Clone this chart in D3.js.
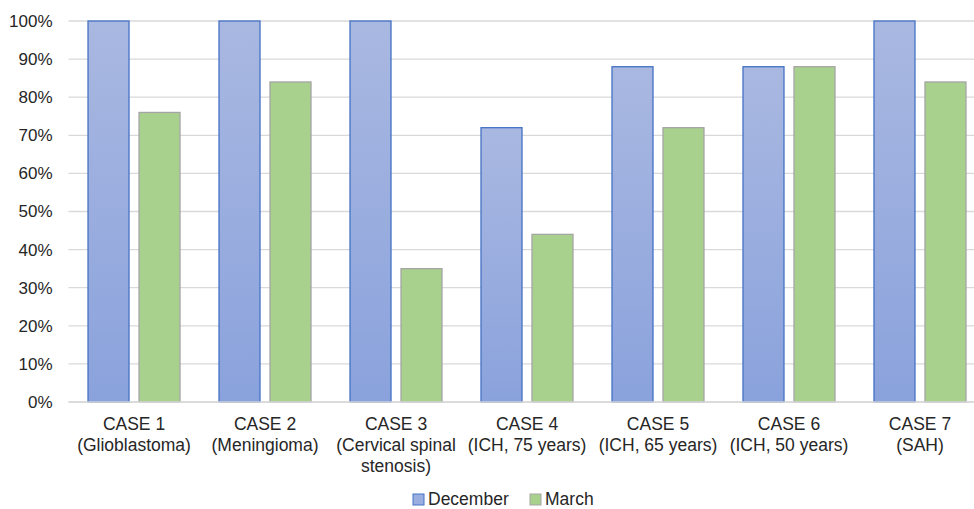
<!DOCTYPE html>
<html lang="en">
<head>
    <meta charset="UTF-8">
    <title>Cases bar chart</title>
    <script src="https://d3js.org/d3.v7.min.js"></script>
    <style>
        body { margin: 0; background: #fff; }
        text { font-family: "Liberation Sans", Arial, sans-serif; fill: #262626; }
    </style>
</head>
<body>
    <div class="canvas"></div>
    <script>
        // data
        const categories = [
            ['CASE 1', '(Glioblastoma)'],
            ['CASE 2', '(Meningioma)'],
            ['CASE 3', '(Cervical spinal', 'stenosis)'],
            ['CASE 4', '(ICH, 75 years)'],
            ['CASE 5', '(ICH, 65 years)'],
            ['CASE 6', '(ICH, 50 years)'],
            ['CASE 7', '(SAH)']
        ];
        const seriesNames = ['December', 'March'];
        const december = [100, 100, 100, 72, 88, 88, 100];
        const march = [76, 84, 35, 44, 72, 88, 84];
        const yTicks = [0, 10, 20, 30, 40, 50, 60, 70, 80, 90, 100];

        const width = 974;
        const height = 509;
        // plot area (right side runs past the picture edge, like the original crop)
        let [mt, mr, mb, ml] = [21, -11.5, 107, 68.5];
        const graphWidth = width - ml - mr;
        const graphHeight = height - mt - mb;

        const svg = d3.select('.canvas')
            .append('svg')
            .attr('width', width)
            .attr('height', height);

        const defs = svg.append('defs');
        const grad = defs.append('linearGradient')
            .attr('id', 'blueGrad')
            .attr('x1', 0).attr('y1', 0).attr('x2', 0).attr('y2', 1);
        grad.append('stop').attr('offset', '0%').attr('stop-color', '#a9b8e1');
        grad.append('stop').attr('offset', '100%').attr('stop-color', '#8aa2dc');

        const graph = svg.append('g')
            .attr('transform', `translate(${ml}, ${mt})`);

        const keys = categories.map(c => c[0]);
        const x0 = d3.scaleBand()
            .domain(keys)
            .range([0, graphWidth])
            .paddingInner(0.2977)
            .paddingOuter(0.149);

        const x1 = d3.scaleBand()
            .domain(seriesNames)
            .range([0, x0.bandwidth()])
            .paddingInner(0.196);

        const y = d3.scaleLinear()
            .domain([0, 100])
            .range([graphHeight, 0]);

        // gridlines
        graph.append('g')
            .selectAll('line')
            .data(yTicks)
            .enter()
            .append('line')
            .attr('x1', 0)
            .attr('x2', graphWidth)
            .attr('y1', d => y(d))
            .attr('y2', d => y(d))
            .attr('stroke', '#d9d9d9')
            .attr('stroke-width', 1.3);

        // y axis labels
        const yAxis = d3.axisLeft(y)
            .tickValues(yTicks)
            .tickFormat(d => d + '%')
            .tickSize(0)
            .tickPadding(16);
        const yAxisG = graph.append('g').call(yAxis);
        yAxisG.select('.domain').remove();
        yAxisG.selectAll('text')
            .style('font-size', '17px')
            .attr('fill', '#262626');

        const rows = keys.map((k, i) => ({ key: k, December: december[i], March: march[i] }));

        const groups = graph.selectAll('.grp')
            .data(rows)
            .enter()
            .append('g')
            .attr('class', 'grp')
            .attr('transform', d => `translate(${x0(d.key)}, 0)`);

        groups.selectAll('rect')
            .data(d => seriesNames.map(s => ({ s: s, v: d[s] })))
            .enter()
            .append('rect')
            .attr('x', d => x1(d.s))
            .attr('width', x1.bandwidth())
            .attr('y', d => y(d.v))
            .attr('height', d => graphHeight - y(d.v))
            .attr('fill', d => d.s === 'December' ? 'url(#blueGrad)' : '#a9d18e')
            .attr('stroke', d => d.s === 'December' ? '#4472c4' : '#a5a5a5')
            .attr('stroke-width', 1.3);

        // x axis line
        graph.append('line')
            .attr('x1', 0).attr('x2', graphWidth)
            .attr('y1', graphHeight).attr('y2', graphHeight)
            .attr('stroke', '#d9d9d9')
            .attr('stroke-width', 1.3);

        // category labels (multi-line)
        const labels = graph.append('g')
            .selectAll('text')
            .data(categories)
            .enter()
            .append('text')
            .attr('text-anchor', 'middle')
            .attr('transform', d => `translate(${x0(d[0]) + x0.bandwidth() / 2}, ${graphHeight + 28})`)
            .style('font-size', '17.5px');
        labels.selectAll('tspan')
            .data(d => d)
            .enter()
            .append('tspan')
            .attr('x', 0)
            .attr('dy', (d, i) => i === 0 ? 0 : 21)
            .text(d => d);

        // legend
        const legendItems = [
            { name: seriesNames[0], x: 413, fill: '#9aaee0', stroke: '#4472c4' },
            { name: seriesNames[1], x: 530, fill: '#a9d18e', stroke: '#a5a5a5' }
        ];
        const legend = svg.append('g');
        const li = legend.selectAll('g')
            .data(legendItems)
            .enter()
            .append('g')
            .attr('transform', d => `translate(${d.x}, 494)`);
        li.append('rect')
            .attr('width', 11).attr('height', 11)
            .attr('fill', d => d.fill)
            .attr('stroke', d => d.stroke)
            .attr('stroke-width', 1);
        li.append('text')
            .attr('x', 15)
            .attr('y', 11)
            .style('font-size', '17.5px')
            .text(d => d.name);
    </script>
</body>
</html>
